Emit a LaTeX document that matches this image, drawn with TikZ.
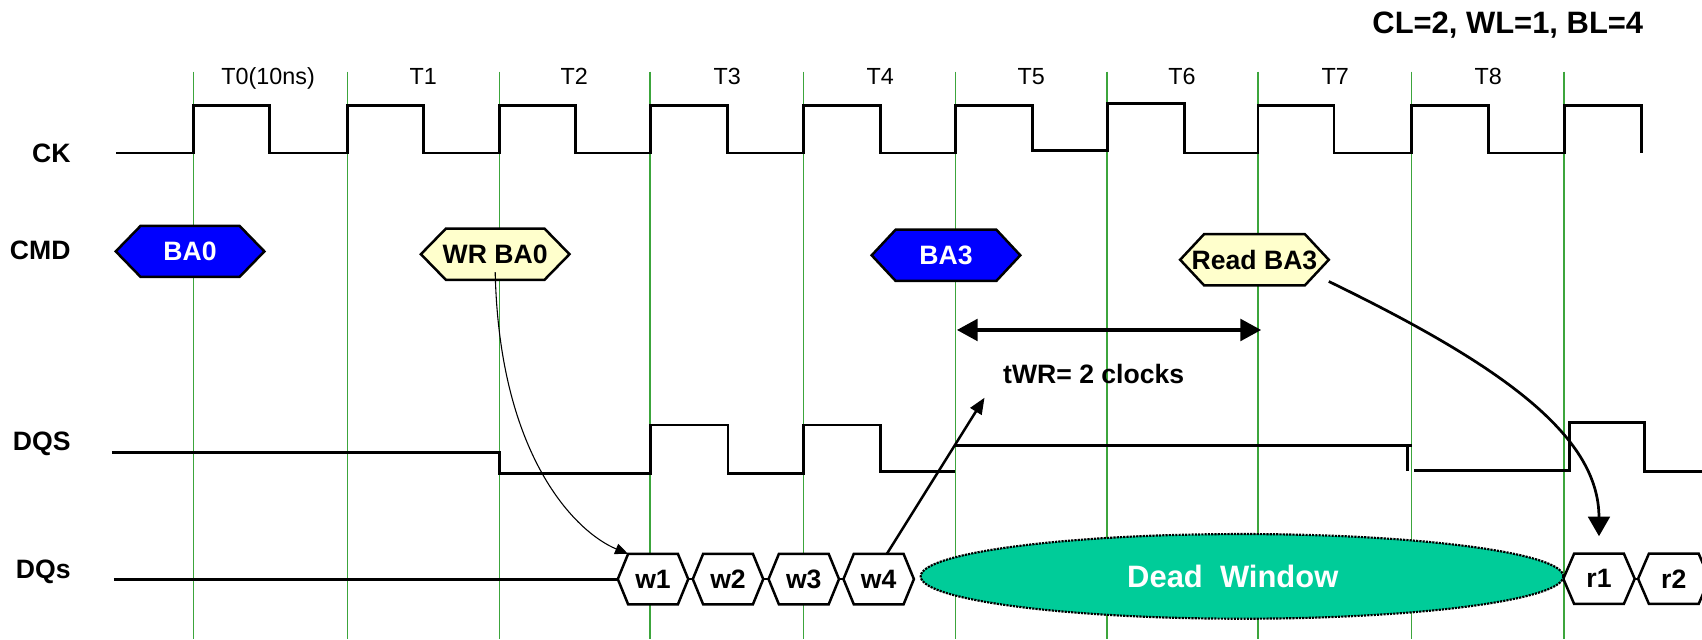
\documentclass[tikz,border=0pt]{standalone}
\usepackage{fontspec}
\setmainfont{Liberation Sans}
\usetikzlibrary{arrows.meta,shapes.geometric}
\pgfdeclarelayer{gridlayer}
\pgfdeclarelayer{shapelayer}
\pgfsetlayers{gridlayer,shapelayer,main}
\definecolor{gridgreen}{RGB}{60,165,60}
\definecolor{cmdblue}{RGB}{0,0,255}
\definecolor{cmdyellow}{RGB}{255,255,204}
\definecolor{deadgreen}{RGB}{0,204,153}
\newcommand{\drawhex}[3]{%
  \draw[hexline,fill=#3] (#1.west) -- ([xshift=#2]#1.north west) -- ([xshift=-#2]#1.north east) -- (#1.east) -- ([xshift=-#2]#1.south east) -- ([xshift=#2]#1.south west) -- cycle;}
\begin{document}
\begin{tikzpicture}[x=1pt,y=-1pt,
  wave/.style={line width=2.6pt},
  gridline/.style={gridgreen,line width=1.3pt},
  rowlabel/.style={anchor=base east,inner sep=0,font=\fontsize{24.5}{28}\selectfont\bfseries},
  tlabel/.style={anchor=base,inner sep=0,font=\fontsize{21.5}{24}\selectfont},
  boldtext/.style={inner sep=0,font=\fontsize{24.5}{28}\selectfont\bfseries},
  cmdhex/.style={boldtext,minimum width=136.5pt,minimum height=46.7pt},
  datahex/.style={boldtext,minimum width=64.5pt,minimum height=46pt},
  hexline/.style={draw=black,line width=2.3pt,line join=miter},
  deadwin/.style={ellipse,fill=deadgreen,draw=black,line width=2pt,densely dotted,
    minimum width=592pt,minimum height=78pt,inner sep=0,text=white,
    font=\fontsize{28.5}{32}\selectfont\bfseries},
]
\useasboundingbox (0,0) rectangle (1568,588.7);

% clock edge grid
\begin{pgfonlayer}{gridlayer}
\foreach \gx in {178,320,460,599,740,880,1020,1159,1300.5,1441}
  \draw[gridline] (\gx,66) -- (\gx,588.7);
\end{pgfonlayer}

% row labels
\node[rowlabel] (lck) at (65.2,149.6) {CK};
\node[rowlabel] (lcmd) at (65.2,239.5) {CMD};
\node[rowlabel] (ldqs) at (65.2,415) {DQS};
\node[rowlabel] (ldq) at (65.2,533.4) {DQs};

% cycle labels
\node[tlabel] (t0) at (247,78.3) {T0(10ns)};
\node[tlabel] (t1) at (390,78.3) {T1};
\node[tlabel] (t2) at (529,78.3) {T2};
\node[tlabel] (t3) at (670,78.3) {T3};
\node[tlabel] (t4) at (811,78.3) {T4};
\node[tlabel] (t5) at (950,78.3) {T5};
\node[tlabel] (t6) at (1089,78.3) {T6};
\node[tlabel] (t7) at (1230,78.3) {T7};
\node[tlabel] (t8) at (1371,78.3) {T8};

% configuration
\node[anchor=base east,inner sep=0,font=\fontsize{28.5}{32}\selectfont\bfseries] (cfg) at (1514,31) {CL=2, WL=1, BL=4};

% clock
\draw[wave] (107,141) -- (178,141) -- (178,97) -- (248,97) -- (248,141) -- (320,141) -- (320,97) -- (390,97) -- (390,141)
  -- (460,141) -- (460,97) -- (530,97) -- (530,141) -- (599,141) -- (599,97) -- (670,97) -- (670,141)
  -- (740,141) -- (740,97) -- (811,97) -- (811,141) -- (880,141) -- (880,97) -- (951,97) -- (951,139)
  -- (1020,139) -- (1020,95.5) -- (1091,95.5) -- (1091,141) -- (1159,141) -- (1159,97) -- (1229,97) -- (1229,141)
  -- (1300.5,141) -- (1300.5,97) -- (1371,97) -- (1371,141) -- (1441,141) -- (1441,97) -- (1512,97) -- (1512,141);

% commands
\node[cmdhex,text=white] (ba0) at (175.1,231.6) {BA0};
\node[cmdhex] (wr) at (456.2,234.2) {WR BA0};
\node[cmdhex,text=white] (ba3) at (871.5,235.2) {BA3};
\node[cmdhex] (rd) at (1155.7,239.3) {Read BA3};
\begin{pgfonlayer}{shapelayer}
\drawhex{ba0}{22.9pt}{cmdblue}
\drawhex{wr}{23pt}{cmdyellow}
\drawhex{ba3}{22pt}{cmdblue}
\drawhex{rd}{22pt}{cmdyellow}
\end{pgfonlayer}

% tWR
\coordinate (twrL) at (881.6,304);
\coordinate (twrR) at (1161.8,304);
\draw[line width=2.8pt,{Triangle[length=19pt,width=20pt]}-{Triangle[length=19pt,width=20pt]}] (twrL) -- (twrR);
\node[boldtext,anchor=base] (twr) at (1007.6,353.5) {tWR= 2 clocks};

% DQS
\draw[wave] (103,416.7) -- (460,416.7) -- (460,436) -- (599.4,436) -- (599.4,391.6) -- (670.7,391.6) -- (670.7,436)
  -- (740.5,436) -- (740.5,391.6) -- (811,391.6) -- (811,434) -- (880,434);
\draw[wave] (880,410.3) -- (1300.7,410.3);
\draw[line width=3pt] (1296.5,410.3) -- (1296.5,433.5);
\draw[wave] (1302.7,433.6) -- (1445.7,433.6) -- (1445.7,389.4) -- (1515,389.4) -- (1515,434) -- (1568,434);

% DQs
\node[datahex] (w1) at (601.6,533.5) {w1};
\node[datahex] (w2) at (670.7,533.5) {w2};
\node[datahex] (w3) at (740.5,533.5) {w3};
\node[datahex] (w4) at (809.5,533.5) {w4};
\node[datahex,minimum width=65.4pt] (r1) at (1473.1,533.2) {r1};
\node[datahex,minimum width=65.4pt] (r2) at (1542,533.2) {r2};
\begin{pgfonlayer}{shapelayer}
\drawhex{w1}{9.5pt}{white}
\drawhex{w2}{9.5pt}{white}
\drawhex{w3}{9.5pt}{white}
\drawhex{w4}{9.5pt}{white}
\drawhex{r1}{10pt}{white}
\drawhex{r2}{10pt}{white}
\end{pgfonlayer}
\draw[wave] (105,533.5) -- (w1.west);
\draw[hexline] (w1.east) -- (w2.west);
\draw[hexline] (w2.east) -- (w3.west);
\draw[hexline] (w3.east) -- (w4.west);
\draw[hexline] (r1.east) -- (r2.west);
\node[deadwin] (dead) at (1144.2,531) {Dead\ \ Window\hspace*{17pt}};

% connectors
\draw[line width=1pt,-{Triangle[length=12pt,width=10pt]}] ([yshift=7pt]wr.south)
  .. controls (460,420) and (530,490) .. ([xshift=9.5pt]w1.north west);
\coordinate (twrtip) at (907,366.4);
\draw[line width=2.3pt,-{Triangle[length=15pt,width=12pt]}] ([xshift=7.5pt]w4.north) -- (twrtip);
\draw[line width=2.5pt,-{Triangle[length=18pt,width=20pt]}] ([yshift=-20pt]rd.east)
  .. controls (1380,335) and (1473,400) .. ([yshift=16pt]r1.north);
\end{tikzpicture}
\end{document}
